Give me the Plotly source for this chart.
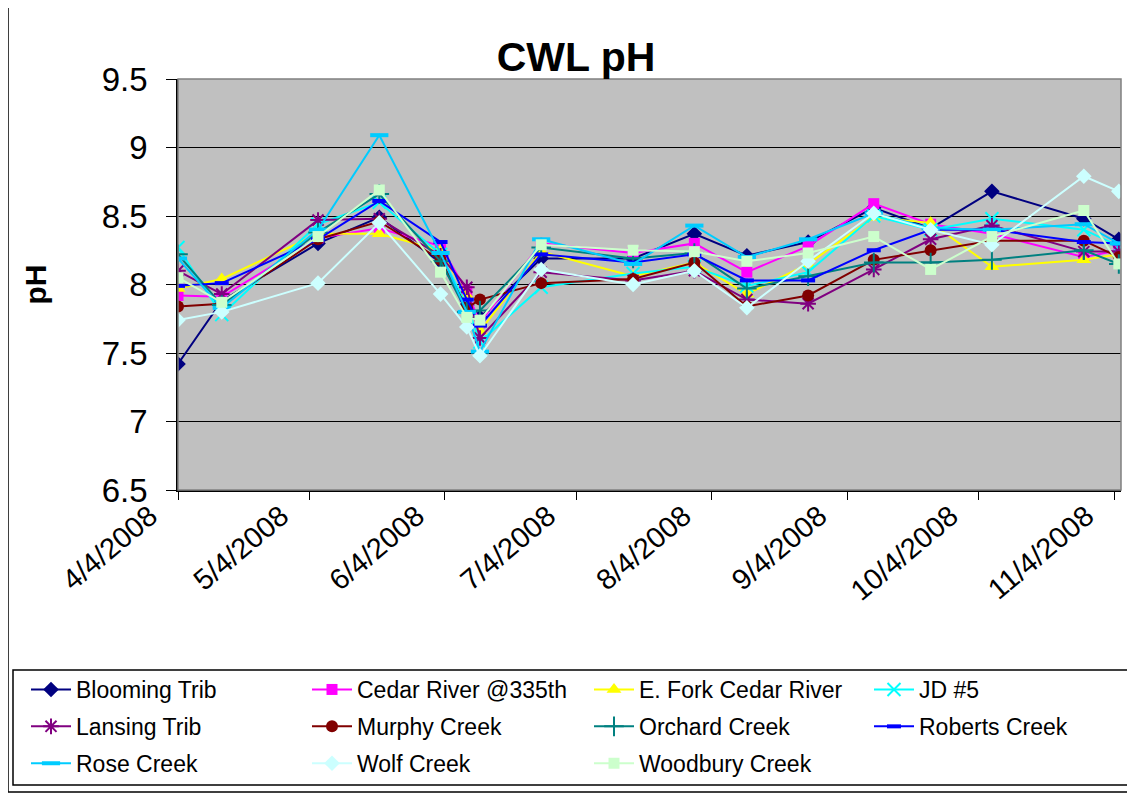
import plotly.graph_objects as go

dates = ["2008-04-04", "2008-04-14", "2008-05-06", "2008-05-20", "2008-06-03", "2008-06-09",
         "2008-06-12", "2008-06-26", "2008-07-17", "2008-07-31", "2008-08-12", "2008-08-26",
         "2008-09-10", "2008-09-23", "2008-10-07", "2008-10-28", "2008-11-05"]

blooming_trib = [7.42, 7.88, 8.30, 8.49, 8.16, 7.85, 7.76, 8.19, 8.19, 8.37, 8.21, 8.31, 8.56, 8.41, 8.68, 8.48, 8.33]
cedar_river   = [7.92, 7.91, 8.34, 8.41, 8.28, 7.95, 7.72, 8.30, 8.23, 8.30, 8.09, 8.28, 8.59, 8.44, 8.37, 8.20, 8.25]
e_fork_cedar  = [7.97, 8.04, 8.37, 8.37, 8.25, 7.92, 7.66, 8.24, 8.06, 8.16, 7.93, 8.15, 8.49, 8.45, 8.13, 8.18, 8.22]
jd5           = [8.27, 7.78, 8.44, 8.60, 8.22, 7.85, 7.58, 7.98, 8.08, 8.13, 7.99, 8.09, 8.50, 8.40, 8.48, 8.40, 8.28]
lansing_trib  = [8.10, 7.93, 8.47, 8.48, 8.21, 7.98, 7.61, 8.09, 8.03, 8.10, 7.89, 7.86, 8.11, 8.33, 8.43, 8.24, 8.24]
murphy_creek  = [7.84, 7.86, 8.33, 8.46, 8.18, 7.83, 7.89, 8.01, 8.04, 8.16, 7.84, 7.92, 8.18, 8.25, 8.32, 8.32, 8.20]
orchard_creek = [8.22, 7.85, 8.38, 8.66, 8.17, 7.80, 7.81, 8.27, 8.19, 8.23, 7.97, 8.06, 8.16, 8.16, 8.18, 8.25, 8.15]
roberts_creek = [7.99, 8.01, 8.33, 8.61, 8.31, 7.89, 7.70, 8.22, 8.16, 8.22, 8.03, 8.03, 8.25, 8.40, 8.40, 8.31, 8.30]
rose_creek    = [8.19, 7.83, 8.40, 9.09, 8.23, 7.80, 7.51, 8.33, 8.15, 8.43, 8.20, 8.33, 8.52, 8.41, 8.40, 8.44, 8.30]
wolf_creek    = [7.74, 7.80, 8.01, 8.45, 7.93, 7.69, 7.48, 8.11, 8.00, 8.10, 7.83, 8.17, 8.52, 8.40, 8.29, 8.79, 8.68]
woodbury_creek= [8.05, 7.87, 8.35, 8.69, 8.09, 7.76, 7.74, 8.29, 8.25, 8.24, 8.17, 8.23, 8.35, 8.11, 8.35, 8.54, 8.15]

series_names = ["Blooming Trib", "Cedar River @335th", "E. Fork Cedar River", "JD #5",
                "Lansing Trib", "Murphy Creek", "Orchard Creek", "Roberts Creek",
                "Rose Creek", "Wolf Creek", "Woodbury Creek"]
series_values = [blooming_trib, cedar_river, e_fork_cedar, jd5, lansing_trib, murphy_creek,
                 orchard_creek, roberts_creek, rose_creek, wolf_creek, woodbury_creek]

tick_vals = ["2008-04-04", "2008-05-04", "2008-06-04", "2008-07-04", "2008-08-04",
             "2008-09-04", "2008-10-04", "2008-11-04"]
tick_text = ["4/4/2008", "5/4/2008", "6/4/2008", "7/4/2008", "8/4/2008",
             "9/4/2008", "10/4/2008", "11/4/2008"]

styles = [
    dict(color="#000080", symbol="diamond", size=12, lw=0),
    dict(color="#FF00FF", symbol="square", size=11, lw=0),
    dict(color="#FFFF00", symbol="triangle-up", size=13, lw=0),
    dict(color="#00FFFF", symbol="x-thin-open", size=13, lw=2),
    dict(color="#800080", symbol="asterisk-open", size=13, lw=2),
    dict(color="#800000", symbol="circle", size=12, lw=0),
    dict(color="#008080", symbol="cross-thin-open", size=14, lw=2),
    dict(color="#0000FF", symbol="line-ew-open", size=10, lw=4),
    dict(color="#00CCFF", symbol="line-ew-open", size=13, lw=4),
    dict(color="#CCFFFF", symbol="diamond", size=12, lw=0),
    dict(color="#CCFFCC", symbol="square", size=11, lw=0),
]

# page is rendered with an 8px body margin
OFF = 8
L, R, T, B = 178, 1121, 79, 490       # plot area in page pixels
W, H = 1135 - OFF, 799 - OFF           # figure size

def pxx(px):
    return (px - L) / (R - L)

def pxy(py):
    return (B - py) / (B - T)

FONT = "Liberation Sans, Arial, sans-serif"

fig = go.Figure()
legend_ids = ["legend", "legend2", "legend3", "legend4"]
for i, (name, vals, st) in enumerate(zip(series_names, series_values, styles)):
    fig.add_trace(go.Scatter(
        x=dates, y=vals, name=name, mode="lines+markers",
        line=dict(color=st["color"], width=2),
        marker=dict(symbol=st["symbol"], size=st["size"], color=st["color"],
                    line=dict(color=st["color"], width=st["lw"])),
        legend=legend_ids[i % 4], legendgroup=name,
        connectgaps=True,
    ))

col_x = [26, 307, 589, 869]
legend_top = 668
legends = {}
for k, lid in enumerate(legend_ids):
    legends[lid] = dict(orientation="v", traceorder="grouped", tracegroupgap=4,
                        bgcolor="rgba(0,0,0,0)", borderwidth=0,
                        font=dict(family=FONT, size=23, color="black"),
                        xanchor="left", yanchor="top", x=pxx(col_x[k]), y=pxy(legend_top),
                        itemwidth=40)

fig.update_layout(
    width=W, height=H,
    paper_bgcolor="white", plot_bgcolor="#C0C0C0",
    margin=dict(l=L - OFF, r=W - (R - OFF), t=T - OFF, b=H - (B - OFF), autoexpand=False),
    title=dict(text="<b>CWL pH</b>", x=(576 - OFF) / W, xanchor="center",
               y=1 - (57 - OFF) / H, yanchor="middle",
               font=dict(family=FONT, size=41, color="black")),
    showlegend=True,
    **legends,
)

fig.update_xaxes(
    type="date", range=["2008-04-04", "2008-11-05 12:00"],
    tickmode="array", tickvals=tick_vals, ticktext=tick_text, tickangle=-40,
    ticks="outside", ticklen=8, tickcolor="black", tickwidth=1,
    showgrid=False, showline=True, linecolor="black", linewidth=1.5,
    tickfont=dict(family=FONT, size=29, color="black"), zeroline=False,
    ticklabelshift=-28, ticklabelstandoff=-12,
)
fig.update_yaxes(
    range=[6.5, 9.5], tickmode="linear", tick0=6.5, dtick=0.5,
    ticks="outside", ticklen=10, tickcolor="black", tickwidth=1,
    showgrid=True, gridcolor="black", gridwidth=1,
    showline=True, linecolor="black", linewidth=1.5,
    tickfont=dict(family=FONT, size=33, color="black"), zeroline=False,
    ticklabelstandoff=12,
    title=dict(text="<b>pH</b>", font=dict(family=FONT, size=30, color="black"), standoff=46),
)

shapes = [
    dict(type="rect", xref="paper", yref="paper", x0=0, x1=1, y0=0, y1=1,
         line=dict(color="#808080", width=1.5), fillcolor="rgba(0,0,0,0)", layer="above"),
    dict(type="rect", xref="paper", yref="paper", x0=pxx(8), x1=pxx(1131), y0=pxy(792), y1=pxy(7),
         line=dict(color="black", width=1.5), fillcolor="rgba(0,0,0,0)"),
    dict(type="rect", xref="paper", yref="paper", x0=pxx(13), x1=pxx(1130), y0=pxy(785), y1=pxy(670),
         line=dict(color="black", width=1.5), fillcolor="white", layer="below"),
]
fig.update_layout(shapes=shapes)

fig.write_html("out.html")
